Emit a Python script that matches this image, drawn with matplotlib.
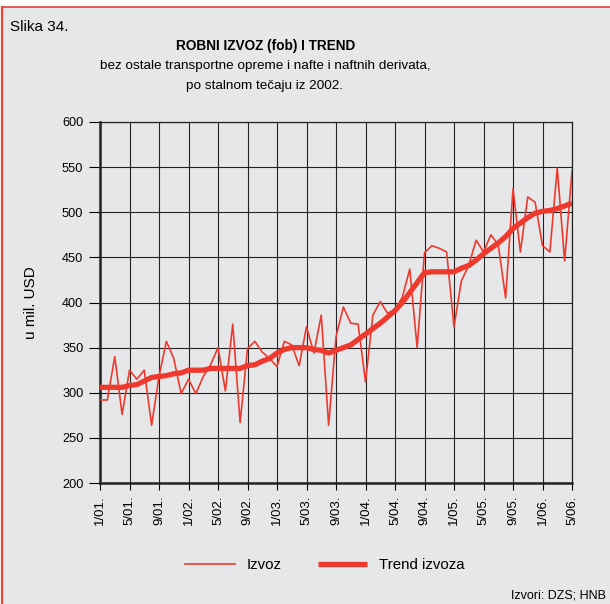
import matplotlib
matplotlib.use("Agg")
import matplotlib.pyplot as plt
from matplotlib.patches import Rectangle
from matplotlib.lines import Line2D

plt.rcParams['font.family'] = ['Liberation Sans', 'DejaVu Sans']

# mjesečni podaci 1/2001 - 5/2006, u mil. USD
izvoz = [292, 292, 340, 276, 325, 315, 325, 264, 318, 357,
         338, 299, 315, 299, 318, 331, 350, 302, 376, 267,
         349, 357, 345, 338, 329, 357, 353, 330, 373, 344,
         386, 264, 362, 395, 377, 376, 312, 386, 401, 388,
         392, 406, 437, 350, 455, 463, 460, 456, 373, 424,
         441, 469, 456, 475, 464, 405, 526, 456, 517, 511,
         463, 456, 549, 446, 546]
trend = [306, 306, 306, 306, 308, 309, 313, 317, 318, 319,
         321, 322, 325, 325, 325, 327, 327, 327, 327, 327,
         330, 331, 335, 338, 344, 348, 350, 350, 350, 348,
         347, 344, 347, 350, 353, 359, 365, 371, 377, 384,
         391, 400, 411, 422, 433, 434, 434, 434, 434, 438,
         441, 447, 454, 460, 466, 473, 482, 488, 494, 499,
         501, 502, 504, 507, 510]

mjeseci = list(range(len(izvoz)))
oznake = ["%d/%02d." % (m % 12 + 1, 1 + m // 12) for m in mjeseci]

crvena = '#ee3a2e'
siva = '#e6e7e9'

fig = plt.figure(figsize=(6.10, 6.04), dpi=100)
fig.patch.set_facecolor('white')

# pozadina i crveni okvir
fig.patches.append(Rectangle((2/610, 0), 1, 597/604, transform=fig.transFigure,
                             facecolor=siva, edgecolor='none', zorder=-10))
fig.lines.append(Line2D([2/610, 1], [597/604, 597/604], transform=fig.transFigure,
                        color='#e0443a', lw=1.2, zorder=-5))
fig.lines.append(Line2D([2/610, 2/610], [0, 597/604], transform=fig.transFigure,
                        color='#e0443a', lw=1.6, zorder=-5))

fig.text(10/610, 1 - 27/604, "Slika 34.", fontsize=11, va='center', ha='left')
fig.text(266/610, 1 - 46/604, "ROBNI IZVOZ (fob) I TREND", fontsize=9.8,
         fontweight='bold', ha='center', va='center')
fig.text(265/610, 1 - 66/604, "bez ostale transportne opreme i nafte i naftnih derivata,",
         fontsize=9.7, ha='center', va='center')
fig.text(265/610, 1 - 86/604, "po stalnom tečaju iz 2002.", fontsize=9.7,
         ha='center', va='center')

ax = fig.add_axes([100/610, 1 - 483/604, 472/610, 361/604])
ax.set_facecolor(siva)

ax.plot(mjeseci, izvoz, color=crvena, lw=1.2, label='Izvoz', zorder=3)
ax.plot(mjeseci, trend, color=crvena, lw=3.8, label='Trend izvoza', zorder=4,
        solid_capstyle='butt')

ax.set_xlim(0, len(izvoz) - 1)
ax.set_ylim(200, 600)
ax.set_yticks(range(200, 601, 50))
ax.set_xticks(mjeseci[::4])
ax.set_xticklabels(oznake[::4], rotation=90, fontsize=9.5)
ax.tick_params(axis='y', labelsize=9.2, length=8, width=0.8, pad=4)
ax.tick_params(axis='x', length=5, width=0.8, pad=4)
ax.grid(True, color='#222222', lw=0.8)
ax.set_axisbelow(True)

for s in ['top', 'right']:
    ax.spines[s].set_linewidth(0.9)
    ax.spines[s].set_color('#222222')
for s in ['left', 'bottom']:
    ax.spines[s].set_linewidth(1.8)
    ax.spines[s].set_color('#222222')

fig.text(31/610, 1 - 303/604, "u mil. USD", fontsize=11, rotation=90,
         ha='center', va='center')

leg = fig.legend(loc='center', bbox_to_anchor=(325/610, 1 - 565/604), ncol=2,
                 frameon=False, fontsize=10.8, handlelength=3.3, columnspacing=2.4,
                 handletextpad=0.8)

fig.text(606/610, 1 - 596/604, "Izvori: DZS; HNB", fontsize=9, ha='right',
         va='center')

fig.savefig('out.png', dpi=100, facecolor=fig.get_facecolor())
